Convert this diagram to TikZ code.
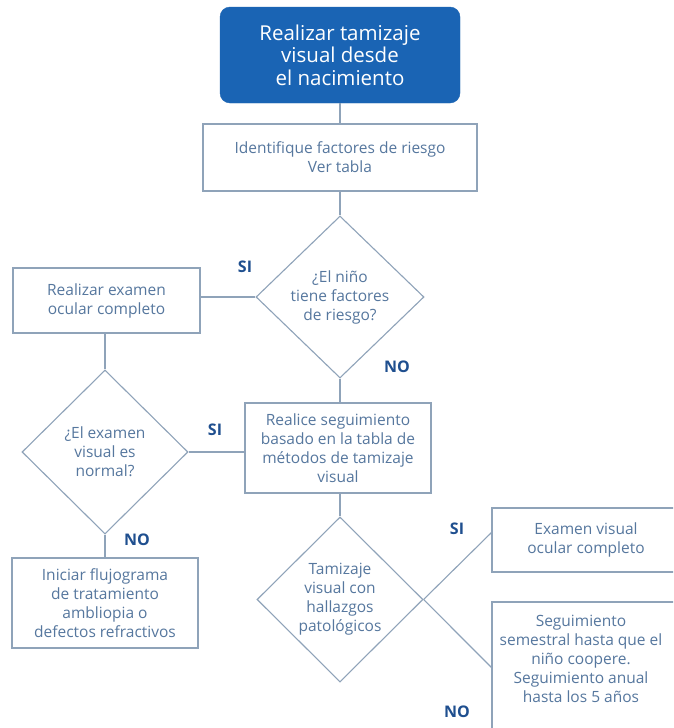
\documentclass[tikz,border=0pt]{standalone}
\usepackage{fontspec}
\setmainfont{Open Sans}
\usetikzlibrary{shapes.geometric}
\definecolor{bluefill}{HTML}{1A64B4}
\definecolor{edgecol}{HTML}{8FA3B9}
\definecolor{txtcol}{HTML}{56779E}
\definecolor{lblcol}{HTML}{1F4F8F}
\begin{document}
\begin{tikzpicture}[x=1pt,y=-1pt,
  startbox/.style={draw=bluefill, fill=bluefill, rounded corners=10pt, text=white, align=center, font=\fontsize{20.5}{22.5}\selectfont, inner sep=0pt},
  box/.style={draw=edgecol, line width=1.1pt, text=txtcol, align=center, font=\fontsize{15.5}{19}\selectfont, inner sep=0pt},
  boxtext/.style={text=txtcol, align=center, font=\fontsize{15.5}{19}\selectfont, inner sep=0pt},
  dia/.style={diamond, draw=edgecol, line width=1.1pt, text=txtcol, align=center, font=\fontsize{15.5}{19}\selectfont, inner sep=0pt},
  lab/.style={text=lblcol, font=\bfseries\fontsize{16}{18}\selectfont},
  conn/.style={draw=edgecol, line width=1.1pt}]
\useasboundingbox (0,0) rectangle (673,728);
\clip (0,0) rectangle (673,728);
\fill[white] (0,0) rectangle (673,728);

\node[startbox, minimum width=240, minimum height=96] (start) at (340,55) {Realizar tamizaje\\visual desde\\el nacimiento};
\node[box, minimum width=274, minimum height=67] (ident) at (340,157.5) {Identifique factores de riesgo\\Ver tabla};
\node[dia, minimum width=168, minimum height=162] (d1) at (340,297) {¿El niño\\tiene factores\\de riesgo?};
\node[box, minimum width=187, minimum height=65] (exam) at (106.5,300.5) {Realizar examen\\ocular completo};
\node[dia, minimum width=166, minimum height=164] (d2) at (105,452) {¿El examen\\visual es\\normal?};
\node[box, minimum width=186, minimum height=90] (realice) at (338,448) {Realice seguimiento\\basado en la tabla de\\métodos de tamizaje\\visual};
\node[box, minimum width=186, minimum height=90] (iniciar) at (105,603) {Iniciar flujograma\\de tratamiento\\ambliopia o\\defectos refractivos};
\node[dia, minimum width=166, minimum height=165] (d3) at (340,599.5) {Tamizaje\\visual con\\hallazgos\\patológicos};
\node[box, minimum width=188, minimum height=64] (exv) at (586,540) {Examen visual\\ocular completo};
\node[box, minimum width=188, minimum height=133] (seg) at (586,668.5) {};
\node[boxtext] (segt) at (581,659) {Seguimiento\\semestral hasta que el\\niño coopere.\\Seguimiento anual\\hasta los 5 años};

\coordinate (siend) at (492,532);
\coordinate (noend) at (492,668);

\draw[conn] (start.south) -- (ident.north);
\draw[conn] (ident.south) -- (d1.north);
\draw[conn] (d1.west) -- (d1.west -| exam.east);
\draw[conn] (exam.south -| d2.north) -- (d2.north);
\draw[conn] (d1.south) -- (realice.north -| d1.south);
\draw[conn] (d2.east) -- (d2.east -| realice.west);
\draw[conn] (d2.south) -- (iniciar.north);
\draw[conn] (realice.south -| d3.north) -- (d3.north);
\draw[conn] (d3.east) -- (siend);
\draw[conn] (d3.east) -- (noend);

\node[lab] (l1) at (245,267) {SI};
\node[lab] (l2) at (397,367) {NO};
\node[lab] (l3) at (215,430) {SI};
\node[lab] (l4) at (137,540) {NO};
\node[lab] (l5) at (457,529) {SI};
\node[lab] (l6) at (457,712) {NO};
\end{tikzpicture}
\end{document}
